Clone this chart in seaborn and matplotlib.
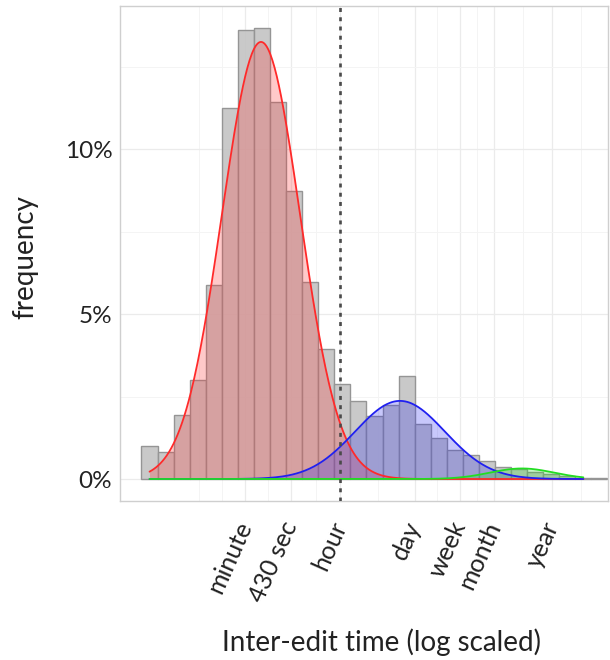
import numpy as np
import pandas as pd
import matplotlib
matplotlib.use('Agg')
import matplotlib.pyplot as plt
import seaborn as sns

# ── Data ───────────────────────────────────────────────────────────────
# histogram of inter-edit times, bins are powers of two seconds (2^k s)
bin_power = list(range(29))
bar_pct = [1.00, 0.83, 1.95, 3.00, 5.90, 11.27, 13.62, 13.67, 11.44, 8.73,
           5.98, 3.94, 2.88, 2.37, 1.92, 2.24, 3.13, 1.66, 1.25, 0.88,
           0.74, 0.54, 0.37, 0.29, 0.22, 0.14, 0.09, 0.04, 0.02]

# fitted mixture components (log10 seconds, peak height in %)
comp_names = ['short', 'medium', 'long']
comp_mean = [2.076, 4.664, 6.936]
comp_sd = [0.726, 0.838, 0.596]
comp_peak = [13.26, 2.37, 0.32]
comp_color = ['#ff2a2a', '#2020f0', '#22dd22']

tick_labels = ['minute', '430 sec', 'hour', 'day', 'week', 'month', 'year']
tick_seconds = [60, 430, 3600, 86400, 604800, 2592000, 31536000]

# ── Setup ──────────────────────────────────────────────────────────────
sns.set_theme(style='whitegrid')
plt.rcParams['font.family'] = ['Lato', 'DejaVu Sans']

step = np.log10(2) * 0.994
centers = np.array(bin_power) * step
edges = list(np.append(centers - step / 2, centers[-1] + step / 2))
df = pd.DataFrame({'x': centers, 'pct': bar_pct})

fig = plt.figure(figsize=(6.1, 6.6), dpi=100)
ax = fig.add_axes([120 / 610, 159 / 660, 488 / 610, 495 / 660])
ax.set_facecolor('white')

sns.histplot(data=df, x='x', weights='pct', bins=edges, stat='count',
             color='#c4c4c4', edgecolor='#959595', linewidth=1.0, alpha=0.9,
             ax=ax, zorder=2)

xs = np.linspace(centers[0], centers[27], 400)
for name, mu, sd, pk, c in zip(comp_names, comp_mean, comp_sd, comp_peak, comp_color):
    ys = pk * np.exp(-0.5 * ((xs - mu) / sd) ** 2)
    ax.fill_between(xs, 0, ys, color=c, alpha=0.25, lw=0, zorder=3)
for name, mu, sd, pk, c in zip(comp_names, comp_mean, comp_sd, comp_peak, comp_color):
    ys = pk * np.exp(-0.5 * ((xs - mu) / sd) ** 2)
    sns.lineplot(x=xs, y=ys, color=c, lw=1.3, ax=ax, zorder=4)

ax.axvline(np.log10(3600), color='#4a4a4a', lw=1.9, ls=(0, (1.5, 2.0)), zorder=5)

# ── Axes ───────────────────────────────────────────────────────────────
ticks = np.log10(tick_seconds)
ax.set_xticks(ticks)
ax.set_xticklabels(tick_labels)
minor_x = list((ticks[:-1] + ticks[1:]) / 2)
minor_x += [ticks[0] - (ticks[1] - ticks[0]) / 2, ticks[0] - (ticks[1] - ticks[0]),
            ticks[-1] + (ticks[-1] - ticks[-2]) / 2]
ax.set_xticks(minor_x, minor=True)
ax.set_yticks([0, 5, 10])
ax.set_yticklabels(['0%', '5%', '10%'])
ax.set_yticks([2.5, 7.5, 12.5], minor=True)
ax.set_xlim(-0.550, 8.538)
ax.set_ylim(-0.667, 14.35)

ax.grid(which='major', color='#ebebeb', lw=0.9)
ax.grid(which='minor', color='#f4f4f4', lw=0.7)
ax.set_axisbelow(True)
for s in ax.spines.values():
    s.set_color('#cfcfcf')
    s.set_linewidth(1.0)

ax.tick_params(axis='both', which='major', length=3.5, width=0.8,
               color='#aaaaaa', labelsize=17.5, labelcolor='#222222')
ax.tick_params(axis='both', which='minor', length=0)
ax.tick_params(axis='x', pad=12, labelsize=18)
ax.tick_params(axis='y', pad=2)
plt.setp(ax.get_xticklabels(), rotation=66, ha='right', va='center',
         rotation_mode='anchor')

ax.set_xlabel('Inter-edit time (log scaled)', fontsize=20, color='#222222')
ax.set_ylabel('frequency', fontsize=20, color='#222222')
ax.xaxis.set_label_coords((382 - 120) / 488, (501 - 642) / 495)
ax.xaxis.label.set_va('center')
ax.yaxis.set_label_coords((25 - 120) / 488, (501 - 257) / 495)
ax.yaxis.label.set_va('center')

fig.savefig('out.png', dpi=100)
plt.close(fig)
